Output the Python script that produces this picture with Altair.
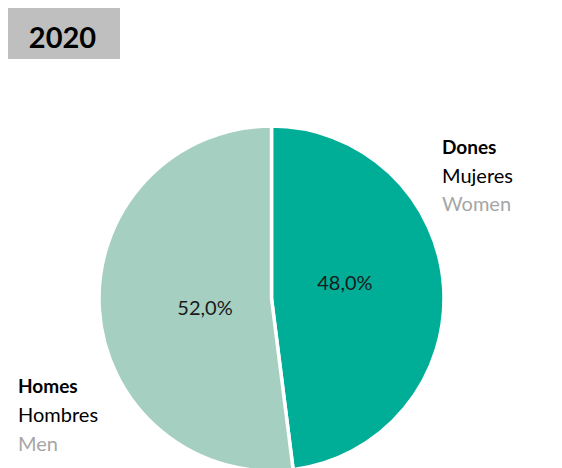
import altair as alt
import pandas as pd

# ---- data ----
categories = ["Dones", "Homes"]
values = [48.0, 52.0]
pct_labels = ["48,0%", "52,0%"]
order_idx = [0, 1]
colors = ["#00AE97", "#A5CFC0"]
year_label = "2020"
dones_lines = ["Dones", "Mujeres", "Women"]
homes_lines = ["Homes", "Hombres", "Men"]
line_colors = ["#000000", "#000000", "#A6A6A6"]
line_weights = ["bold", "normal", "normal"]
line_sizes = [19, 20, 20]

FONT = "Lato"
W, H = 546, 460
CX, CY, R = 263.5, 290.5, 172.5

df = pd.DataFrame({"cat": categories, "value": values, "label": pct_labels, "ord": order_idx})

pie = alt.Chart(df).mark_arc(radius=R, stroke="white", strokeWidth=3.5).encode(
    theta=alt.Theta("value:Q", stack=True),
    order=alt.Order("ord:Q"),
    color=alt.Color("cat:N", scale=alt.Scale(domain=categories, range=colors), legend=None),
    x=alt.value(CX),
    y=alt.value(CY),
)

lab_base = alt.Chart(df).transform_window(
    cum="sum(value)", sort=[alt.SortField("ord")], frame=[None, 0]
).transform_calculate(mid="datum.cum - datum.value / 2")


def pct_layer(cat, dx, dy):
    return lab_base.transform_filter(alt.datum.cat == cat).mark_text(
        radius=72, dx=dx, dy=dy, font=FONT, fontSize=20, color="#1a1a1a",
        align="center", baseline="middle",
    ).encode(
        theta=alt.Theta("mid:Q", scale=alt.Scale(domain=[0, 100])),
        text="label:N",
        x=alt.value(CX),
        y=alt.value(CY),
    )


pct_d = pct_layer("Dones", 1.6, -10)
pct_h = pct_layer("Homes", 5.4, 6)

# title box
box_df = pd.DataFrame({"t": [year_label]})
box = alt.Chart(box_df).mark_rect(color="#BFBFBF").encode(
    x=alt.value(0), x2=alt.value(112), y=alt.value(0), y2=alt.value(51)
)
year = alt.Chart(box_df).mark_text(
    font=FONT, fontSize=29, fontWeight="bold", color="#000000",
    align="center", baseline="alphabetic",
).encode(text="t:N", x=alt.value(54.5), y=alt.value(40))


def block(lines, x0, y0, step):
    layers = []
    for i, t in enumerate(lines):
        d = pd.DataFrame({"t": [t]})
        layers.append(
            alt.Chart(d).mark_text(
                font=FONT, fontSize=line_sizes[i], fontWeight=line_weights[i], color=line_colors[i],
                align="left", baseline="alphabetic",
            ).encode(text="t:N", x=alt.value(x0), y=alt.value(y0 + i * step))
        )
    return layers


side = block(dones_lines, 434, 146, 28.5) + block(homes_lines, 10, 385, 29)

chart = alt.layer(pie, pct_d, pct_h, box, year, *side).properties(
    width=W, height=H, padding=0, autosize=alt.AutoSizeParams(type="none")
).configure_view(stroke=None)

chart.save("out.html", embed_options={"renderer": "svg", "actions": False})
